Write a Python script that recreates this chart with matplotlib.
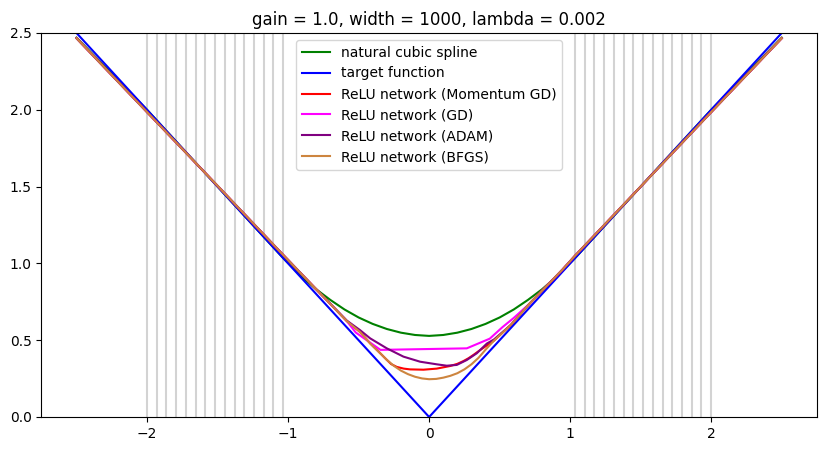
import matplotlib
matplotlib.use("Agg")
import matplotlib.pyplot as plt

# training inputs (vertical grey lines)
x_train = [-2.0, -1.931, -1.8621, -1.7931, -1.7241, -1.6552, -1.5862, -1.5172,
           -1.4483, -1.3793, -1.3103, -1.2414, -1.1724, -1.1034, -1.0345,
           1.0345, 1.1034, 1.1724, 1.2414, 1.3103, 1.3793, 1.4483, 1.5172,
           1.5862, 1.6552, 1.7241, 1.7931, 1.8621, 1.931, 2.0]

# target function
target_x = [-2.5, 0.0, 2.5]
target_y = [2.5, 0.0, 2.5]

# natural cubic spline
spline_x = [-2.5, -2.0, -1.5, -1.0345, -0.9, -0.8, -0.7, -0.6, -0.5, -0.4, -0.3, -0.2, -0.1, 0.0,
            0.1, 0.2, 0.3, 0.4, 0.5, 0.6, 0.7, 0.8, 0.9, 1.0345, 1.5, 2.0, 2.5]
spline_y = [2.47, 2.0, 1.5, 1.0345, 0.911, 0.831, 0.762, 0.700, 0.648, 0.606, 0.573, 0.549, 0.534, 0.528,
            0.534, 0.549, 0.573, 0.606, 0.648, 0.700, 0.762, 0.831, 0.911, 1.0345, 1.5, 2.0, 2.47]

# ReLU network (Momentum GD)
mom_x = [-2.5, -2.0, -1.5, -1.0345, -0.82, -0.584, -0.489, -0.418, -0.35, -0.31, -0.27, -0.229,
         -0.18, -0.135, -0.04, 0.054, 0.149, 0.2, 0.243, 0.28, 0.314, 0.35, 0.40, 0.456, 0.58,
         0.709, 0.946, 1.0345, 1.5, 2.0, 2.5]
mom_y = [2.466, 1.985, 1.505, 1.055, 0.85, 0.625, 0.553, 0.48, 0.418, 0.381, 0.345, 0.326,
         0.315, 0.310, 0.308, 0.315, 0.332, 0.346, 0.364, 0.383, 0.404, 0.428, 0.46, 0.494, 0.60,
         0.735, 0.96, 1.05, 1.5, 1.985, 2.466]

# ReLU network (GD)
gd_x = [-2.5, -2.0, -1.5, -1.0345, -0.82, -0.584, -0.52, -0.345, 0.267, 0.43, 0.52, 0.6,
        0.709, 0.946, 1.0345, 1.5, 2.0, 2.5]
gd_y = [2.466, 1.985, 1.505, 1.055, 0.85, 0.625, 0.55, 0.437, 0.447, 0.51, 0.585, 0.645,
        0.735, 0.96, 1.05, 1.5, 1.985, 2.466]

# ReLU network (ADAM)
adam_x = [-2.5, -2.0, -1.5, -1.0345, -0.82, -0.584, -0.489, -0.418, -0.3, -0.182, -0.064, 0.054,
          0.125, 0.196, 0.267, 0.338, 0.409, 0.46, 0.58, 0.709, 0.946, 1.0345, 1.5, 2.0, 2.5]
adam_y = [2.466, 1.985, 1.505, 1.055, 0.85, 0.628, 0.565, 0.512, 0.447, 0.393, 0.36, 0.343,
          0.334, 0.339, 0.371, 0.415, 0.478, 0.505, 0.60, 0.735, 0.96, 1.05, 1.5, 1.985, 2.466]

# ReLU network (BFGS)
bfgs_x = [-2.5, -2.0, -1.5, -1.0345, -0.82, -0.584, -0.489, -0.418, -0.35, -0.3, -0.25, -0.2,
          -0.15, -0.1, -0.05, 0.0, 0.05, 0.1, 0.15, 0.2, 0.25, 0.3, 0.35, 0.4, 0.456, 0.58,
          0.709, 0.946, 1.0345, 1.5, 2.0, 2.5]
bfgs_y = [2.466, 1.985, 1.505, 1.055, 0.85, 0.625, 0.553, 0.478, 0.418, 0.372, 0.333, 0.302,
          0.279, 0.262, 0.251, 0.246, 0.248, 0.256, 0.268, 0.285, 0.31, 0.343, 0.385, 0.438, 0.494, 0.60,
          0.735, 0.96, 1.05, 1.5, 1.985, 2.466]

fig = plt.figure(figsize=(8.26, 4.51), dpi=100)
ax = fig.add_axes([41.25 / 826, 34 / 451, 775.75 / 826, 384 / 451])

for xv in x_train:
    ax.axvline(xv, color="lightgray", linewidth=1.5, zorder=1)

ax.plot(spline_x, spline_y, color="green", label="natural cubic spline", zorder=2)
ax.plot(target_x, target_y, color="blue", label="target function", zorder=2)
ax.plot(mom_x, mom_y, color="red", label="ReLU network (Momentum GD)", zorder=2)
ax.plot(gd_x, gd_y, color="magenta", label="ReLU network (GD)", zorder=2)
ax.plot(adam_x, adam_y, color="purple", label="ReLU network (ADAM)", zorder=2)
ax.plot(bfgs_x, bfgs_y, color="peru", label="ReLU network (BFGS)", zorder=2)

ax.set_xlim(-2.75, 2.75)
ax.set_ylim(0, 2.5)
ax.set_xticks([-2, -1, 0, 1, 2])
ax.set_yticks([0.0, 0.5, 1.0, 1.5, 2.0, 2.5])
ax.set_title("gain = 1.0, width = 1000, lambda = 0.002")
ax.legend(loc="upper center")

fig.savefig("out.png", dpi=100)
